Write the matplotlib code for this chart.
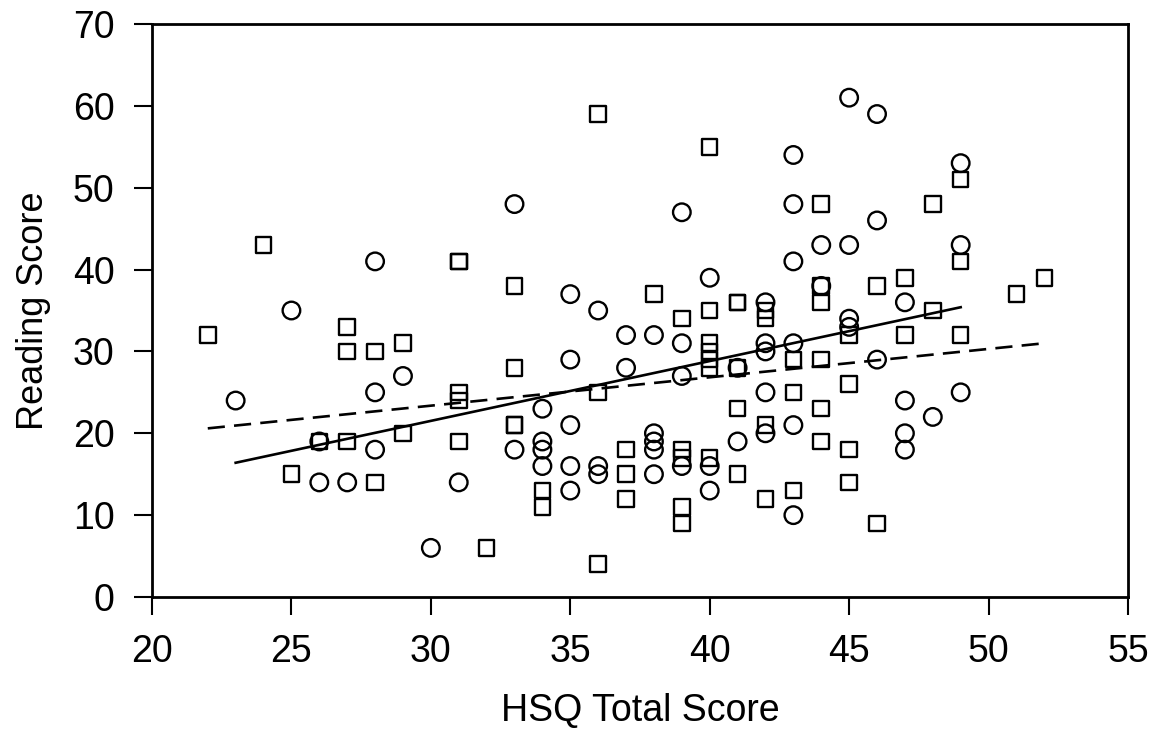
import numpy as np
import matplotlib
matplotlib.use("Agg")
import matplotlib.pyplot as plt

plt.rcParams['font.family'] = ['Liberation Sans', 'DejaVu Sans']

# group shown with squares
sq_x = [22, 24, 25, 26, 27, 27, 27, 28, 28, 29, 29, 31, 31, 31, 31, 31, 32,
        33, 33, 33, 33, 34, 34, 36, 36, 36, 37, 37, 37, 38, 39, 39, 39, 39, 39,
        40, 40, 40, 40, 40, 40, 40, 41, 41, 41, 41, 41, 42, 42, 42, 42,
        43, 43, 43, 44, 44, 44, 44, 44, 44, 45, 45, 45, 45, 46, 46,
        47, 47, 48, 48, 49, 49, 49, 51, 52]
sq_y = [32, 43, 15, 19, 33, 30, 19, 30, 14, 31, 20, 41, 41, 25, 24, 19, 6,
        38, 28, 21, 21, 13, 11, 59, 25, 4, 18, 15, 12, 37, 34, 18, 17, 11, 9,
        55, 35, 31, 30, 29, 28, 17, 36, 36, 28, 23, 15, 35, 34, 21, 12,
        29, 25, 13, 48, 38, 36, 29, 23, 19, 32, 26, 18, 14, 38, 9,
        39, 32, 48, 35, 51, 41, 32, 37, 39]

# group shown with circles
ci_x = [23, 25, 26, 26, 27, 28, 28, 28, 29, 30, 31, 33, 33, 34, 34, 34, 34,
        35, 35, 35, 35, 35, 36, 36, 36, 37, 37, 38, 38, 38, 38, 38,
        39, 39, 39, 39, 40, 40, 40, 41, 41, 42, 42, 42, 42, 42,
        43, 43, 43, 43, 43, 43, 44, 44, 45, 45, 45, 45, 46, 46, 46,
        47, 47, 47, 47, 48, 49, 49, 49]
ci_y = [24, 35, 19, 14, 14, 41, 25, 18, 27, 6, 14, 48, 18, 23, 19, 18, 16,
        37, 29, 21, 16, 13, 35, 16, 15, 32, 28, 32, 20, 19, 18, 15,
        47, 31, 27, 16, 39, 16, 13, 28, 19, 36, 31, 30, 25, 20,
        54, 48, 41, 31, 21, 10, 43, 38, 61, 43, 34, 33, 59, 46, 29,
        36, 24, 20, 18, 22, 53, 43, 25]

# fitted lines (end points)
fit_sq_x = [23, 49]
fit_sq_y = [16.4, 35.4]
fit_ci_x = [22, 52]
fit_ci_y = [20.6, 31.0]

fig = plt.figure(figsize=(11.53, 7.40), dpi=100)
ax = fig.add_axes([152 / 1153, 1 - 597 / 740, 976 / 1153, 573 / 740])

ax.scatter(sq_x, sq_y, marker='s', s=125, facecolors='none',
           edgecolors='black', linewidths=1.7, zorder=3)
ax.scatter(ci_x, ci_y, marker='o', s=160, facecolors='none',
           edgecolors='black', linewidths=1.7, zorder=3)

ax.plot(fit_sq_x, fit_sq_y, color='black', lw=1.9, zorder=2)
ax.plot(fit_ci_x, fit_ci_y, color='black', lw=1.9, ls=(0, (6.5, 3.5)), zorder=2)

ax.set_xlim(20, 55)
ax.set_ylim(0, 70)
ax.set_xticks(np.arange(20, 56, 5))
ax.set_yticks(np.arange(0, 71, 10))
ax.tick_params(direction='out', length=13, width=1.5, labelsize=27, pad=14)
for sp in ax.spines.values():
    sp.set_linewidth(2)

ax.set_xlabel('HSQ Total Score', fontsize=27, labelpad=16)
ax.set_ylabel('Reading Score', fontsize=26, labelpad=16)

fig.savefig('out.png', dpi=100)
